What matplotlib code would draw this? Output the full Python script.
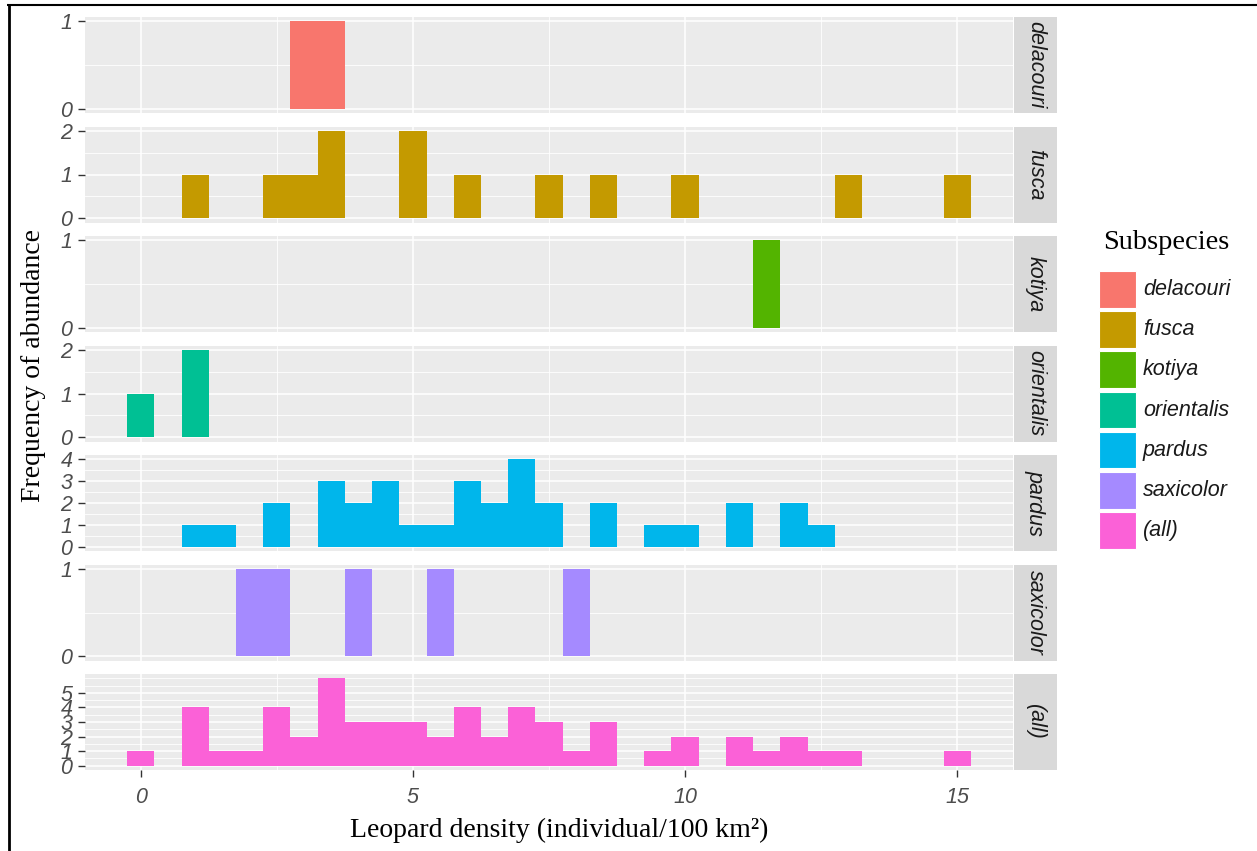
import numpy as np
import pandas as pd
import matplotlib
matplotlib.use("Agg")
import matplotlib.pyplot as plt
from matplotlib.patches import Rectangle

W, H = 1257, 851

# Histogram counts (bin width 0.5), one list pair per subspecies
delacouri_bins = [3.0, 3.5]
delacouri_counts = [1, 1]

fusca_bins = [1.0, 2.5, 3.0, 3.5, 5.0, 6.0, 7.5, 8.5, 10.0, 13.0, 15.0]
fusca_counts = [1, 1, 1, 2, 2, 1, 1, 1, 1, 1, 1]

kotiya_bins = [11.5]
kotiya_counts = [1]

orientalis_bins = [0.0, 1.0]
orientalis_counts = [1, 2]

pardus_bins = [1.0, 1.5, 2.5, 3.5, 4.0, 4.5, 5.0, 5.5, 6.0, 6.5, 7.0, 7.5, 8.5,
               9.5, 10.0, 11.0, 12.0, 12.5]
pardus_counts = [1, 1, 2, 3, 2, 3, 1, 1, 3, 2, 4, 2, 2, 1, 1, 2, 2, 1]

saxicolor_bins = [2.0, 2.5, 4.0, 5.5, 8.0]
saxicolor_counts = [1, 1, 1, 1, 1]

subspecies = ["delacouri", "fusca", "kotiya", "orientalis", "pardus", "saxicolor"]
colors = ["#F8766D", "#C49A00", "#53B400", "#00C094", "#00B6EB", "#A58AFF", "#FB61D7"]
top_breaks = [1, 2, 1, 2, 4, 1, 5]

frames = []
for name, b, n in zip(subspecies,
                      [delacouri_bins, fusca_bins, kotiya_bins, orientalis_bins, pardus_bins, saxicolor_bins],
                      [delacouri_counts, fusca_counts, kotiya_counts, orientalis_counts, pardus_counts, saxicolor_counts]):
    frames.append(pd.DataFrame({"sub": name, "bin": b, "count": n}))
df = pd.concat(frames, ignore_index=True)

# margin panel: all subspecies pooled
df_all = df.groupby("bin", as_index=False)["count"].sum()
df_all["sub"] = "(all)"
df = pd.concat([df, df_all], ignore_index=True)
panels = subspecies + ["(all)"]

sans = "Liberation Sans"
serif = "Liberation Serif"
tick_size = 15.5

fig = plt.figure(figsize=(W / 100, H / 100), dpi=100)


def px_axes(left, top, width, height):
    return fig.add_axes([left / W, 1 - (top + height) / H, width / W, height / H])


panel_left, panel_right = 85, 1013
panel_h, pitch, first_top = 96, 109.5, 17

for i, (name, col, ytop) in enumerate(zip(panels, colors, top_breaks)):
    top = first_top + i * pitch
    ax = px_axes(panel_left, top, panel_right - panel_left, panel_h)
    sub = df[df["sub"] == name]
    ymax = sub["count"].max()

    ax.set_facecolor("#EBEBEB")
    ax.set_axisbelow(True)
    ax.bar(sub["bin"], sub["count"], width=0.5, color=col, linewidth=0)

    ax.set_xlim(-1.025, 16.025)
    ax.set_ylim(-0.05 * ymax, 1.05 * ymax)

    ax.set_xticks([0, 5, 10, 15])
    ax.set_xticks([2.5, 7.5, 12.5], minor=True)
    yt = list(range(0, ytop + 1))
    ax.set_yticks(yt)
    ax.set_yticks(np.arange(0.5, ymax + 0.01, 0.5), minor=True)
    ax.grid(which="major", color="white", linewidth=1.1)
    ax.grid(which="minor", color="white", linewidth=0.6)

    for s in ax.spines.values():
        s.set_visible(False)

    ax.set_yticklabels([str(v) for v in yt], fontstyle="italic", family=sans,
                       fontsize=tick_size, color="#4D4D4D")
    ax.tick_params(axis="y", which="major", length=5, width=1, color="#333333", pad=4)
    ax.tick_params(which="minor", length=0)

    if i == len(panels) - 1:
        ax.set_xticklabels(["0", "5", "10", "15"], fontstyle="italic", family=sans,
                           fontsize=tick_size, color="#4D4D4D")
        ax.tick_params(axis="x", which="major", length=5, width=1, color="#333333", pad=7)
    else:
        ax.tick_params(axis="x", which="major", length=0, labelbottom=False)

    # facet strip on the right
    st = px_axes(panel_right + 1, top, 43, panel_h)
    st.set_facecolor("#D9D9D9")
    st.set_xticks([])
    st.set_yticks([])
    for s in st.spines.values():
        s.set_visible(False)
    st.text(0.5, 0.5, name, rotation=-90, ha="center", va="center", family=sans,
            fontstyle="italic", fontsize=tick_size, color="#1A1A1A", transform=st.transAxes)

# overlay in pixel coordinates for titles, legend and frame
lax = fig.add_axes([0, 0, 1, 1])
lax.set_xlim(0, W)
lax.set_ylim(H, 0)
lax.axis("off")

lax.plot([7, W], [5, 5], color="black", linewidth=1.5, solid_capstyle="butt")
lax.plot([8.5, 8.5], [4, H], color="black", linewidth=2.0, solid_capstyle="butt")

lax.text(559, 837, "Leopard density (individual/100 km²)", family=serif, fontsize=20,
         ha="center", va="baseline", color="black")
lax.text(34, 365, "Frequency of abundance", family=serif, fontsize=20, rotation=90,
         ha="center", va="center", color="black")

lax.text(1103, 249, "Subspecies", family=serif, fontsize=20.5, ha="left", va="baseline")
for i, (name, col) in enumerate(zip(panels, colors)):
    y0 = 271 + i * 40.2
    lax.add_patch(Rectangle((1099, y0), 37, 36.5, facecolor=col, edgecolor="white", linewidth=0.8))
    lax.text(1143, y0 + 18.5, name, family=sans, fontstyle="italic", fontsize=tick_size,
             ha="left", va="center", color="#1A1A1A")

fig.savefig("out.png", dpi=100)
